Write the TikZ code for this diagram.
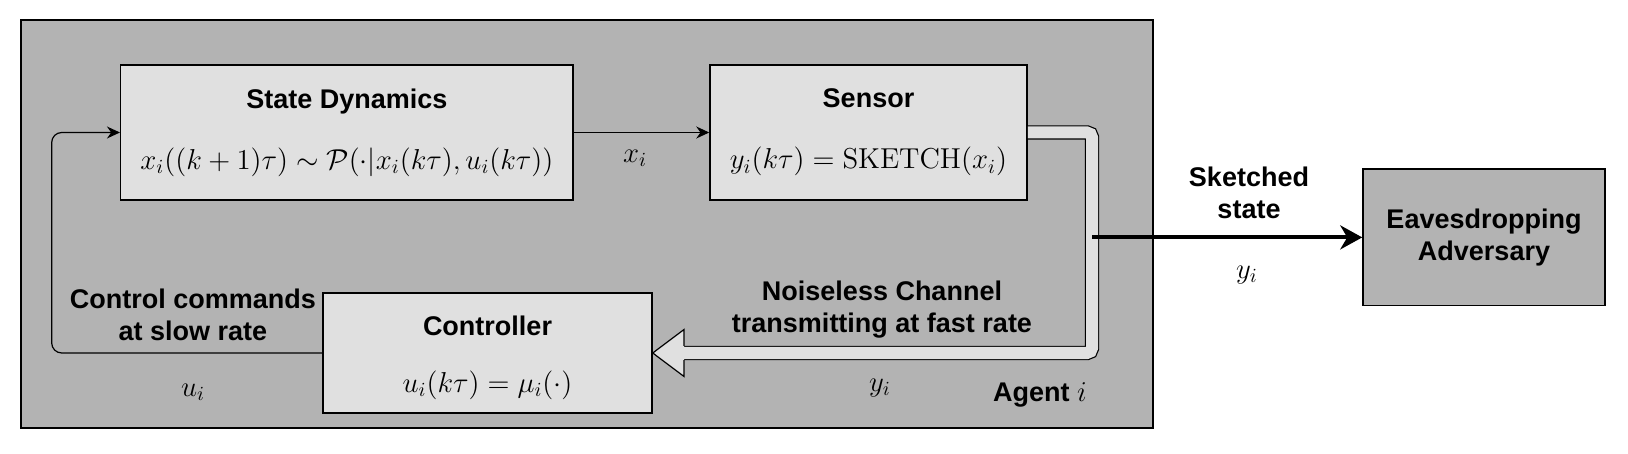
\documentclass[tikz,border=0pt]{standalone}
\usepackage[no-math]{fontspec}
\usepackage{amsmath}
\usepackage{amssymb}
\newfontfamily\labelfont{Liberation Sans}
\usetikzlibrary{arrows.meta}

\definecolor{agentgray}{HTML}{B3B3B3}
\definecolor{boxgray}{HTML}{E0E0E0}

% Size of the formulas
\newcommand{\formsize}{\fontsize{14.5}{16.5}\selectfont}

\begin{document}
\begin{tikzpicture}[x=0.5pt,y=-0.5pt,
   block/.style={draw=black, line width=0.75pt, fill=boxgray, align=center, inner sep=0pt,
      font=\labelfont\bfseries\fontsize{13.5}{16}\selectfont},
   lbl/.style={align=center, font=\labelfont\bfseries\fontsize{13.5}{16}\selectfont},
   mlbl/.style={font=\formsize},
   thin arrow/.style={line width=0.6pt, -{Stealth[length=6.5pt,width=6pt]}},
   chan/.style={line width=0.6pt, double=boxgray, double distance=6pt, rounded corners=2.5pt},
]

\useasboundingbox (0,0) rectangle (1628,454);

% Agent area (draw first so on bottom layer)
\draw[line width=0.9pt, fill=agentgray] (20.7,20) rectangle (1152.7,428);

% Blocks
\node[block, minimum width=226.2pt, minimum height=67.5pt] (dyn) at (346.9,132.5)
   {State Dynamics\\[14.5pt]{\formsize$x_i((k+1)\tau)\sim\mathcal{P}(\cdot|x_i(k\tau),u_i(k\tau))$}};
\node[block, minimum width=158.5pt, minimum height=67.5pt] (sen) at (868.5,132.5)
   {Sensor\\[14.5pt]{\formsize$y_i(k\tau)=\mathrm{SKETCH}(x_i)$}};
\node[block, minimum width=164.5pt, minimum height=60pt] (ctrl) at (487.5,353) {};
\node[block, draw=none, fill=none] (ctrltext) at (487.5,357.5)
   {Controller\\[12.5pt]{\formsize$u_i(k\tau)=\mu_i(\cdot)$}};
\node[block, fill=agentgray, minimum width=121pt, minimum height=68.3pt] (eav) at (1484,237.4)
   {Eavesdropping\\Adversary};

% Channel corners and arrow head base
\coordinate (chcorner) at (1092,353);
\coordinate (chend) at (684,353);
\coordinate (fb) at (51.7,240);

% Noiseless channel (hollow arrow)
\draw[chan] (sen.east) -| (chcorner) -- (chend);
\fill[boxgray] (ctrl.east) -- (684,329.5) -- (684,376.5) -- cycle;
\draw[line width=0.6pt] (684,345.8) -- (684,329.5) -- (ctrl.east) -- (684,376.5) -- (684,360.2);

% Sketched state to adversary
\draw[line width=2pt, -{Stealth[length=11pt,width=12pt,inset=3.5pt]}] (chcorner |- eav.west) -- (eav.west);

% State to sensor
\draw[thin arrow] (dyn.east) -- (sen.west);

% Control feedback
\draw[thin arrow, rounded corners=5pt] (ctrl.west) -| (fb) |- (dyn.west);

% Labels
\node[mlbl] (xlbl) at (635,158) {$x_i$};
\node[lbl] (sklbl) at (1249,193) {Sketched\\state};
\node[mlbl] (yslbl) at (1247,275) {$y_i$};
\node[lbl] (ctllbl) at (193,315) {Control commands\\at slow rate};
\node[mlbl] (ulbl) at (193,392) {$u_i$};
\node[lbl] (chlbl) at (882,310) {Noiseless Channel\\transmitting at fast rate};
\node[mlbl] (yclbl) at (880,388) {$y_i$};
\node[lbl] (aglbl) at (1040,395) {Agent {\formsize$i$}};

\end{tikzpicture}
\end{document}
